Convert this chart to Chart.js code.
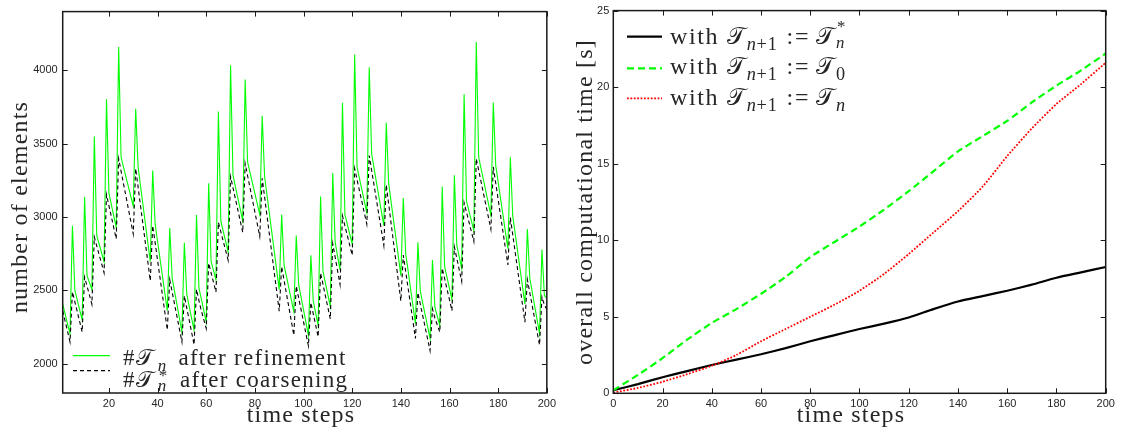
<!DOCTYPE html>
<html><head><meta charset="utf-8">
<script src="https://cdn.jsdelivr.net/npm/chart.js@4.4.1/dist/chart.umd.min.js"></script>
<style>
html,body{margin:0;padding:0;background:#fff;}
#wrap{position:relative;width:1121px;height:428px;overflow:hidden;background:#fff;}
canvas{position:absolute;top:0;}
.t{position:absolute;font-family:"Liberation Serif","Times New Roman",serif;color:#262626;white-space:nowrap;line-height:1;letter-spacing:1.2px;}
.rot{transform:translate(-50%,-50%) rotate(-90deg);font-size:24px;}
.hx{transform:translate(-50%,-50%);font-size:24px;}
.lg1{font-size:23px;letter-spacing:1.3px;}
.lg2{font-size:24px;letter-spacing:1.6px;}
.cal{font-family:"DejaVu Serif","DejaVu Sans","Noto Sans",serif;font-style:normal;letter-spacing:0;}
.sb{font-size:70%;vertical-align:-0.35em;letter-spacing:0;margin-left:2px;}
.lg1 .sb{font-size:74%;margin-left:4px;}
.lg2 .sb{font-size:76%;letter-spacing:0.8px;}
.ss{display:inline-block;position:relative;width:0.6em;height:1em;font-size:70%;letter-spacing:0;vertical-align:baseline;margin-left:2px;}
.lg1 .ss{font-size:74%;margin-left:4px;}
.ss > span{position:absolute;left:0;line-height:1;}
.ss .up{top:-0.45em;left:1px;}
.lg1 .ss .up{top:-0.12em;}
.ss .dn{top:0.47em;}
.rel{margin:0 6px 0 9px;}
i{font-family:"Liberation Serif",serif;}
</style></head>
<body><div id="wrap">
<canvas id="c1" width="560" height="428" style="left:0"></canvas>
<canvas id="c2" width="561" height="428" style="left:560px"></canvas>
<svg style="position:absolute;left:0;top:0" width="1121" height="428">
  <line x1="73" y1="355.7" x2="110" y2="355.7" stroke="#00ff00" stroke-width="1.2"/>
  <line x1="73" y1="370.7" x2="110" y2="370.7" stroke="#000" stroke-width="1.2" stroke-dasharray="4 3"/>
  <line x1="627" y1="36.7" x2="662" y2="36.7" stroke="#000" stroke-width="2.2"/>
  <line x1="627" y1="68.3" x2="662" y2="68.3" stroke="#00ff00" stroke-width="2.2" stroke-dasharray="7 4"/>
  <line x1="627" y1="98.3" x2="662" y2="98.3" stroke="#ff0000" stroke-width="1.8" stroke-dasharray="1.8 1.6"/>
</svg>
<div class="t rot" style="left:19px;top:207px">number of elements</div>
<div class="t rot" style="left:584px;top:202px">overall computational time [s]</div>
<div class="t hx" style="left:301px;top:413.6px">time steps</div>
<div class="t hx" style="left:851px;top:413.6px">time steps</div>
<div class="t lg1" style="left:123px;top:346px">#<span class="cal">𝒯</span><span class="sb" style="margin-right:5px"><i>n</i></span> after refinement</div>
<div class="t lg1" style="left:123px;top:367.5px">#<span class="cal">𝒯</span><span class="ss" style="margin-right:5px"><span class="up">*</span><span class="dn"><i>n</i></span></span> after coarsening</div>
<div class="t lg2" style="left:670px;top:23.7px">with <span class="cal">𝒯</span><span class="sb"><i>n</i>+1</span><span class="rel">:=</span><span class="cal">𝒯</span><span class="ss"><span class="up">*</span><span class="dn"><i>n</i></span></span></div>
<div class="t lg2" style="left:670px;top:53.7px">with <span class="cal">𝒯</span><span class="sb"><i>n</i>+1</span><span class="rel">:=</span><span class="cal">𝒯</span><span class="sb">0</span></div>
<div class="t lg2" style="left:670px;top:84.7px">with <span class="cal">𝒯</span><span class="sb"><i>n</i>+1</span><span class="rel">:=</span><span class="cal">𝒯</span><span class="sb"><i>n</i></span></div>
</div>
<script>
// ---------- left panel data ----------
const timeSteps = Array.from({length: 200}, (_, i) => i + 1);
const elementsAfterRefinement = [
2405,2340,2270,2205,
2940,2500,2433,2365,2298,
3136,2600,2552,2505,
3548,2873,2814,2754,2695,
3802,3162,3084,3006,2928,
4158,3407,3340,3273,3207,3140,3073,
3737,3340,3211,3082,2953,2824,2695,
3317,2951,2833,2715,2597,2479,2361,
2924,2583,2491,2400,2308,2216,
2824,2472,2390,2309,2227,
3014,2517,2440,2362,2285,
3229,2695,2634,2572,
3719,2973,2902,2832,2761,
4035,3285,3207,3129,3051,2973,
3937,3374,3303,3231,3160,3088,3017,
3690,3274,3146,3018,2890,2761,2633,2505,
3017,2672,2593,2514,2434,2355,
2873,2539,2453,2366,2280,2194,
2739,2427,2344,2260,
3140,2628,2549,2469,2390,
3299,2828,2730,2640,
3779,3017,2950,2882,2815,
4107,3340,3262,3185,3107,3029,
4020,3429,3331,3233,3136,3038,2940,
3642,3229,3103,2977,2852,2726,2600,
3129,2750,2631,2511,2392,2272,
2828,2494,2413,2333,2252,2171,
2706,2383,2322,2260,
3207,2661,2587,2512,2438,
3285,2806,2728,2650,
3837,3107,3040,2973,2906,
4192,3407,3328,3249,3170,3091,3012,
3781,3351,3238,3124,3011,2897,2784,
3407,3006,2886,2765,2645,2525,2405,
2917,2583,2489,2394,2300,2205,
2778,2465,2445
];
const elementsAfterCoarsening = [
2360,2290,2220,2149,
2490,2422,2353,2285,2216,
2590,2528,2467,2405,
2863,2802,2741,2681,2620,
3152,3077,3002,2926,2851,
3397,3312,3226,3141,3055,2970,2884,
3330,3203,3075,2948,2820,2693,2565,
2941,2823,2704,2586,2467,2349,2230,
2573,2488,2403,2319,2234,2149,
2462,2379,2296,2213,2130,
2507,2430,2360,2300,2240,
2685,2619,2554,2488,
2963,2899,2834,2770,2706,
3275,3199,3123,3047,2971,2895,
3364,3281,3199,3116,3033,2951,2868,
3264,3135,3005,2876,2746,2617,2488,2358,
2662,2568,2475,2381,2288,2194,
2529,2448,2366,2285,2203,2122,
2417,2339,2261,2183,
2618,2540,2461,2383,2305,
2818,2725,2632,2539,
3007,2940,2873,2806,2739,
3330,3254,3178,3103,3027,2951,
3419,3317,3215,3112,3010,2908,2806,
3219,3087,2955,2823,2691,2559,2427,
2740,2626,2513,2399,2286,2172,
2484,2405,2326,2247,2168,2089,
2373,2310,2263,2216,
2651,2579,2506,2434,2361,
2796,2718,2639,2561,
3097,3031,2965,2899,2833,
3397,3317,3237,3157,3077,2997,2917,
3341,3230,3118,3007,2896,2784,2673,
2996,2877,2759,2640,2521,2402,2283,
2573,2484,2395,2305,2216,2127,
2455,2400,2370
];
const leftXTicks = [20,40,60,80,100,120,140,160,180,200];
const leftYTicks = [2000,2500,3000,3500,4000];

// ---------- right panel data ----------
const timeGrid = [0,10,20,30,40,50,60,70,80,90,100,110,120,130,140,150,160,170,180,190,200];
const timeReuseCoarsened = [0.2,0.6,1.05,1.45,1.85,2.2,2.55,2.95,3.4,3.8,4.2,4.55,4.95,5.5,6.0,6.35,6.7,7.1,7.55,7.9,8.25];
const timeFromInitial   = [0.2,1.2,2.3,3.5,4.6,5.5,6.5,7.6,8.9,9.9,10.9,12.0,13.2,14.5,15.8,16.8,17.8,19.0,20.1,21.1,22.2];
const timeReuseRefined  = [0.05,0.35,0.75,1.25,1.8,2.5,3.4,4.2,5.0,5.8,6.7,7.8,9.1,10.5,11.9,13.5,15.5,17.3,18.9,20.2,21.6];
const rightXTicks = [0,20,40,60,80,100,120,140,160,180,200];
const rightYTicks = [0,5,10,15,20,25];

const tickFont = {family: '"Liberation Sans", Arial, sans-serif', size: 11};
const tickColor = '#262626';

const framePlugin = {
  id: 'frame',
  afterDatasetsDraw(chart) {
    const {ctx, chartArea: a, scales: {x, y}} = chart;
    ctx.save();
    ctx.setLineDash([]);
    ctx.strokeStyle = '#1a1a1a';
    ctx.lineWidth = 1;
    ctx.beginPath();
    x.ticks.forEach(t => {
      const p = Math.round(x.getPixelForValue(t.value)) + 0.5;
      ctx.moveTo(p, a.bottom); ctx.lineTo(p, a.bottom - 5);
      ctx.moveTo(p, a.top); ctx.lineTo(p, a.top + 5);
    });
    y.ticks.forEach(t => {
      const p = Math.round(y.getPixelForValue(t.value)) + 0.5;
      ctx.moveTo(a.left, p); ctx.lineTo(a.left + 5, p);
      ctx.moveTo(a.right, p); ctx.lineTo(a.right - 5, p);
    });
    ctx.stroke();
    ctx.lineWidth = 1.5;
    ctx.strokeRect(a.left, a.top, a.right - a.left, a.bottom - a.top);
    ctx.restore();
  }
};

function axis(min, max, tickList, fitFn, pad) {
  return {
    type: 'linear', min, max,
    grid: {display: false, drawTicks: false},
    border: {display: false},
    afterBuildTicks: s => { s.ticks = tickList.map(v => ({value: v})); },
    afterFit: fitFn,
    ticks: {font: tickFont, color: tickColor, padding: pad, autoSkip: false, maxRotation: 0,
            callback: v => String(v)}
  };
}

new Chart(document.getElementById('c1'), {
  type: 'line',
  data: {
    datasets: [
      {label: 'after refinement', data: timeSteps.map((s, i) => ({x: s, y: elementsAfterRefinement[i]})),
       borderColor: '#00ff00', borderWidth: 1.1, pointRadius: 0, tension: 0, order: 1},
      {label: 'after coarsening', data: timeSteps.map((s, i) => ({x: s, y: elementsAfterCoarsening[i]})),
       borderColor: '#000000', borderWidth: 1.1, borderDash: [4, 3], pointRadius: 0, tension: 0, order: 0}
    ]
  },
  options: {
    responsive: false, animation: false, devicePixelRatio: 1,
    layout: {padding: {top: 5, right: 4.5, left: 0, bottom: 0}},
    plugins: {legend: {display: false}, tooltip: {enabled: false}},
    scales: {
      x: axis(1, 200, leftXTicks, s => { s.height = 35; }, 4),
      y: axis(1800, 4400, leftYTicks, s => { s.width = 62.7; }, 5)
    }
  },
  plugins: [framePlugin]
});

new Chart(document.getElementById('c2'), {
  type: 'line',
  data: {
    datasets: [
      {label: 'with T_{n+1} := T_n^*', data: timeGrid.map((s, i) => ({x: s, y: timeReuseCoarsened[i]})),
       borderColor: '#000000', borderWidth: 2.2, pointRadius: 0, tension: 0.2, order: 2},
      {label: 'with T_{n+1} := T_0', data: timeGrid.map((s, i) => ({x: s, y: timeFromInitial[i]})),
       borderColor: '#00ff00', borderWidth: 2.2, borderDash: [7, 4], pointRadius: 0, tension: 0.2, order: 1},
      {label: 'with T_{n+1} := T_n', data: timeGrid.map((s, i) => ({x: s, y: timeReuseRefined[i]})),
       borderColor: '#ff0000', borderWidth: 1.8, borderDash: [1.8, 1.6], pointRadius: 0, tension: 0.2, order: 0}
    ]
  },
  options: {
    responsive: false, animation: false, devicePixelRatio: 1,
    layout: {padding: {top: 5, right: 15.3, left: 0, bottom: 0}},
    plugins: {legend: {display: false}, tooltip: {enabled: false}},
    scales: {
      x: axis(0, 200, rightXTicks, s => { s.height = 34.7; }, 4),
      y: axis(0, 25, rightYTicks, s => { s.width = 53.3; }, 4)
    }
  },
  plugins: [framePlugin]
});
</script>
</body></html>
